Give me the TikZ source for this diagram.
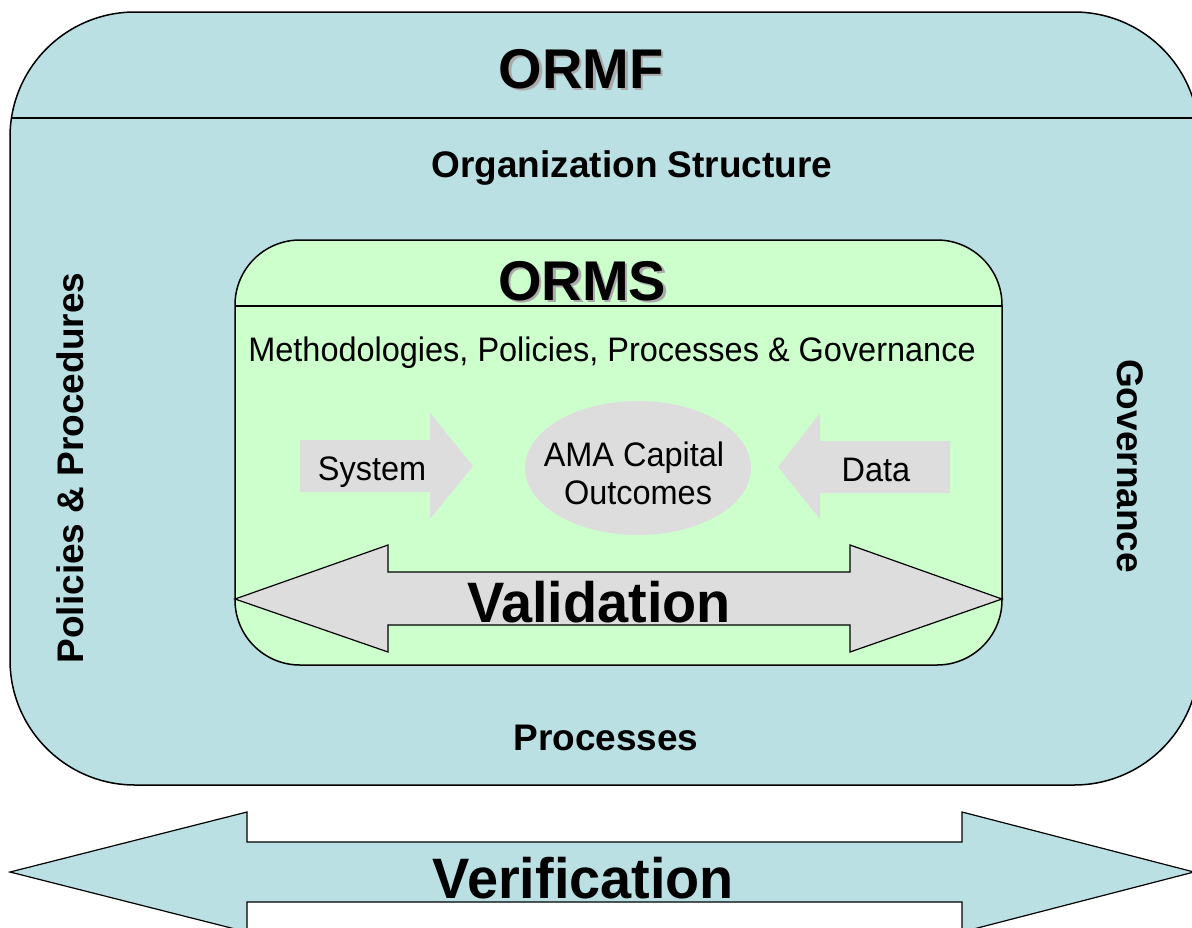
\documentclass[tikz,border=0pt]{standalone}
\usepackage{fontspec}
\setmainfont{Liberation Sans}
\newfontfamily\narrowfont[FakeStretch=0.955]{Liberation Sans}
\newfontfamily\narrowbold[FakeStretch=0.98]{Liberation Sans Bold}
\definecolor{outerblue}{RGB}{187,224,227}
\definecolor{innergreen}{RGB}{204,255,204}
\definecolor{shapegray}{RGB}{221,221,221}
\definecolor{shadowgray}{RGB}{170,170,170}
\newcommand{\shadowtext}[1]{\makebox[0pt][l]{\hspace{2.5pt}\raisebox{-2.5pt}{\textcolor{shadowgray}{#1}}}#1}
\tikzset{
  frame/.style={draw=black, line width=1.5pt},
  bigtitle/.style={anchor=base, inner sep=0pt, font=\bfseries\fontsize{56}{60}\selectfont},
  sidelabel/.style={anchor=base, inner sep=0pt, font=\bfseries\fontsize{37}{40}\selectfont},
  plainlabel/.style={anchor=base, inner sep=0pt, font=\narrowfont\fontsize{34}{38}\selectfont},
  arrowlabel/.style={anchor=base, inner sep=0pt, font=\narrowbold\fontsize{57}{60}\selectfont},
  grayshape/.style={fill=shapegray, draw=none}
}
\begin{document}
\begin{tikzpicture}[x=1pt,y=1pt]
\useasboundingbox (0,0) rectangle (1192,-927);
% outer ORMF box
\draw[frame, fill=outerblue, rounded corners=125pt] (10,-12) rectangle (1199,-785);
\draw[frame] (11,-118) -- (1198,-118);
% inner ORMS box
\draw[frame, fill=innergreen, rounded corners=65pt] (235,-240) rectangle (1002,-665);
\draw[frame] (235,-306) -- (1002,-306);
% titles with shadow
\node[bigtitle] (ormf) at (581,-88) {\shadowtext{ORMF}};
\node[bigtitle] (orms) at (582,-300) {\shadowtext{ORMS}};
% side labels
\node[sidelabel] (org) at (632,-177) {Organization Structure};
\node[sidelabel] (proc) at (606,-750) {Processes};
\node[sidelabel, rotate=90] (pol) at (83,-468) {Policies \& Procedures};
\node[sidelabel, rotate=-90] (gov) at (1117,-466) {Governance};
% inner content
\node[plainlabel] (meth) at (612,-361) {Methodologies, Policies, Processes \& Governance};
\fill[grayshape] (300,-440) -- (430,-440) -- (430,-413) -- (473,-466) -- (430,-519) -- (430,-492) -- (300,-492) -- cycle;
\fill[grayshape] (950,-441) -- (820,-441) -- (820,-413) -- (778,-467) -- (820,-519) -- (820,-493) -- (950,-493) -- cycle;
\fill[grayshape] (638,-468) ellipse [x radius=113, y radius=67];
\node[plainlabel] (sys) at (372,-480) {System};
\node[plainlabel] (data) at (876,-481) {Data};
\node[plainlabel] (ama1) at (634,-466) {AMA Capital};
\node[plainlabel] (ama2) at (638,-504) {Outcomes};
% validation arrow
\draw[fill=shapegray, draw=black, line width=1.2pt, line join=miter]
  (235,-599) -- (388,-545) -- (388,-572) -- (850,-572) -- (850,-545) -- (1002,-599)
  -- (850,-652) -- (850,-625) -- (388,-625) -- (388,-652) -- cycle;
\node[arrowlabel] (valid) at (599,-622) {Validation};
% verification arrow
\draw[fill=outerblue, draw=black, line width=1.2pt, line join=miter]
  (10,-872) -- (247,-812) -- (247,-842) -- (962,-842) -- (962,-812) -- (1194,-872)
  -- (962,-932) -- (962,-902) -- (247,-902) -- (247,-932) -- cycle;
\node[arrowlabel] (verif) at (583.5,-898) {Verification};
\end{tikzpicture}
\end{document}
